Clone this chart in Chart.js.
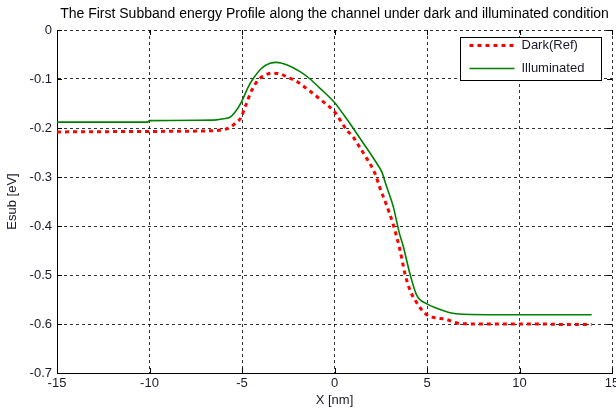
<!DOCTYPE html>
<html>
<head>
<meta charset="UTF-8">
<title>First Subband energy Profile</title>
<script src="https://cdn.jsdelivr.net/npm/chart.js"></script>
<style>
  html, body { margin: 0; padding: 0; background: #fff; }
  #wrap { width: 616px; height: 412px; }
</style>
</head>
<body>
<div id="wrap"><canvas id="chart" width="616" height="412"></canvas></div>
<script>
// chart data
const chartTitle = 'The First Subband energy Profile along the channel under dark and illuminated condition';
const seriesLabels = ['Dark(Ref)', 'Illuminated'];

const darkX = [-15, -10, -7, -6.1, -5.65, -5.32, -5.02, -4.87, -4.71, -4.57, -4.39, -4.12, -3.76, -3.34,
  -2.91, -2.5, -2.08, -1.74, -1.32, -0.69, 0, 0.66, 1.02, 1.29, 1.74, 2.19, 2.46, 2.78, 3.18, 3.54,
  3.81, 4.08, 4.35, 4.71, 5.07, 5.53, 5.97, 6.78, 8, 9.84, 11.2, 12.5, 13.9];
const darkY = [-0.208, -0.207, -0.206, -0.204, -0.199, -0.189, -0.177, -0.160, -0.146, -0.131, -0.117, -0.102, -0.092, -0.088,
  -0.090, -0.097, -0.104, -0.113, -0.125, -0.144, -0.167, -0.204, -0.219, -0.235, -0.262, -0.293, -0.323, -0.354, -0.398, -0.449,
  -0.498, -0.531, -0.551, -0.571, -0.583, -0.588, -0.590, -0.599, -0.600, -0.600, -0.600, -0.601, -0.601];

const illumX = [-15, -10.1, -10, -6.6, -6, -5.65, -5.38, -5.02, -4.66, -4.39, -3.94, -3.49, -3.13, -2.59,
  -1.86, -1.32, -0.78, 0, 0.48, 1.02, 1.56, 2.28, 2.55, 2.82, 3.18, 3.5, 3.72, 4.08, 4.44, 5.0,
  5.53, 6.24, 6.96, 8.95, 13.9];
const illumY = [-0.188, -0.188, -0.185, -0.184, -0.181, -0.178, -0.168, -0.146, -0.116, -0.099, -0.078, -0.068, -0.066, -0.071,
  -0.085, -0.100, -0.119, -0.148, -0.172, -0.201, -0.231, -0.272, -0.289, -0.320, -0.361, -0.414, -0.442, -0.498, -0.541, -0.559,
  -0.568, -0.577, -0.580, -0.581, -0.581];

const xTicks = [-15, -10, -5, 0, 5, 10, 15];
const yTicks = [0, -0.1, -0.2, -0.3, -0.4, -0.5, -0.6, -0.7];
const xLabel = 'X [nm]';
const yLabel = 'Esub [eV]';

const FONT = 'Arial, "Liberation Sans", sans-serif';
const TXT = '#1a1a2a';
const GRID = 'rgba(0,0,0,0.8)';

function toPoints(xs, ys) {
  return xs.map((x, i) => ({ x: x, y: ys[i] }));
}

// title centred over the axes, like matlab does
const titlePlugin = {
  id: 'axesTitle',
  afterDraw(chart) {
    const { ctx, chartArea } = chart;
    ctx.save();
    ctx.font = '14px ' + FONT;
    ctx.fillStyle = '#000';
    ctx.textAlign = 'center';
    ctx.textBaseline = 'middle';
    ctx.fillText(chartTitle, (chartArea.left + chartArea.right) / 2, 14);
    ctx.restore();
  }
};

// inward tick marks on all four sides
const tickPlugin = {
  id: 'inTicks',
  afterDraw(chart) {
    const { ctx, chartArea: a, scales } = chart;
    ctx.save();
    ctx.strokeStyle = '#000';
    ctx.lineWidth = 1;
    ctx.beginPath();
    xTicks.forEach(v => {
      const px = Math.round(scales.x.getPixelForValue(v)) + 0.5;
      ctx.moveTo(px, a.bottom); ctx.lineTo(px, a.bottom - 5);
      ctx.moveTo(px, a.top); ctx.lineTo(px, a.top + 5);
    });
    yTicks.forEach(v => {
      const py = Math.round(scales.y.getPixelForValue(v)) + 0.5;
      ctx.moveTo(a.left, py); ctx.lineTo(a.left + 5, py);
      ctx.moveTo(a.right, py); ctx.lineTo(a.right - 5, py);
    });
    ctx.stroke();
    ctx.restore();
  }
};

// boxed legend inside the plot, top right
const legendPlugin = {
  id: 'boxLegend',
  afterDatasetsDraw(chart) {
    const { ctx, chartArea: a } = chart;
    const x0 = Math.round(a.right - 152) + 0.5;
    const y0 = Math.round(a.top + 7) + 0.5;
    ctx.save();
    ctx.fillStyle = '#fff';
    ctx.strokeStyle = '#000';
    ctx.lineWidth = 1;
    ctx.fillRect(x0, y0, 141, 43);
    ctx.strokeRect(x0, y0, 141, 43);
    ctx.font = '13px ' + FONT;
    ctx.textBaseline = 'middle';
    chart.data.datasets.forEach((ds, i) => {
      const y = y0 + 8 + i * 23;
      ctx.beginPath();
      ctx.strokeStyle = ds.borderColor;
      ctx.lineWidth = ds.borderWidth;
      ctx.setLineDash(ds.borderDash || []);
      ctx.moveTo(x0 + 9, y);
      ctx.lineTo(x0 + 54, y);
      ctx.stroke();
      ctx.setLineDash([]);
      ctx.fillStyle = TXT;
      ctx.fillText(ds.label, x0 + 61, y);
    });
    ctx.restore();
  }
};

new Chart(document.getElementById('chart'), {
  type: 'line',
  data: {
    datasets: [{
      label: seriesLabels[0],
      data: toPoints(darkX, darkY),
      borderColor: '#ff0000',
      borderWidth: 3,
      borderDash: [4, 4],
      pointRadius: 0,
      cubicInterpolationMode: 'monotone',
      fill: false
    }, {
      label: seriesLabels[1],
      data: toPoints(illumX, illumY),
      borderColor: '#008000',
      borderWidth: 1.6,
      pointRadius: 0,
      cubicInterpolationMode: 'monotone',
      fill: false
    }]
  },
  options: {
    responsive: false,
    animation: false,
    devicePixelRatio: 1,
    layout: { padding: { top: 30, right: 4, left: 0, bottom: 0 } },
    plugins: {
      legend: { display: false },
      title: { display: false },
      tooltip: { enabled: false }
    },
    scales: {
      x: {
        type: 'linear',
        min: -15,
        max: 15,
        afterBuildTicks: s => { s.ticks = xTicks.map(v => ({ value: v })); },
        afterFit: s => { s.height = 39; s.paddingLeft = 0; s.paddingRight = 0; },
        ticks: { color: TXT, font: { family: FONT, size: 13 }, padding: 3, maxRotation: 0 },
        grid: { color: GRID, drawTicks: false },
        border: { display: true, color: '#000', width: 1, dash: [3, 3] },
        title: { display: true, text: xLabel, color: TXT, font: { family: FONT, size: 13 }, padding: { top: 4 } }
      },
      y: {
        min: -0.7,
        max: 0,
        afterBuildTicks: s => { s.ticks = yTicks.map(v => ({ value: v })); },
        afterFit: s => { s.width = 57; s.paddingTop = 0; s.paddingBottom = 0; },
        ticks: {
          color: TXT,
          font: { family: FONT, size: 13 },
          padding: 5,
          callback: v => (Math.abs(v) < 1e-9 ? '0' : v.toFixed(1))
        },
        grid: { color: GRID, drawTicks: false },
        border: { display: true, color: '#000', width: 1, dash: [3, 3] },
        title: { display: true, text: yLabel, color: TXT, font: { family: FONT, size: 13 }, padding: { top: 5 } }
      }
    }
  },
  plugins: [titlePlugin, tickPlugin, legendPlugin]
});
</script>
</body>
</html>
